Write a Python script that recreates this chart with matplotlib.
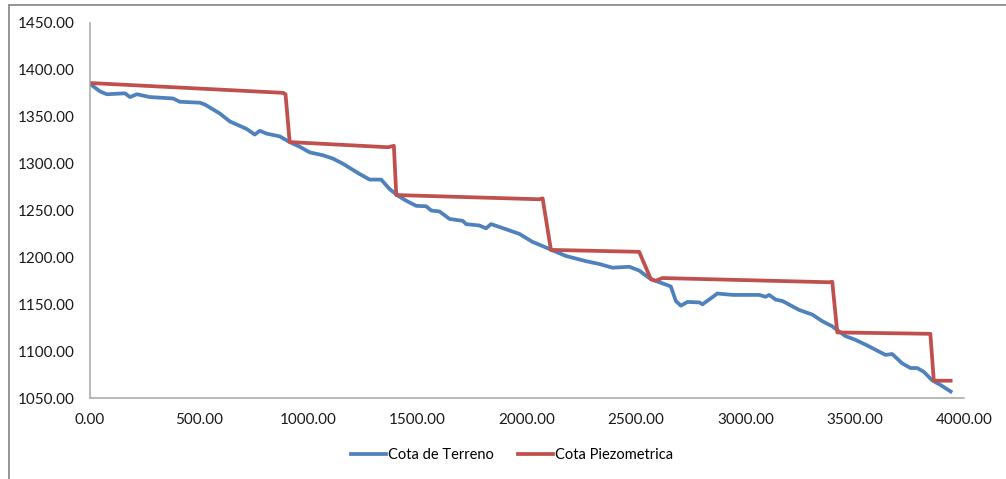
import matplotlib
matplotlib.use("Agg")
import matplotlib.pyplot as plt
from matplotlib.lines import Line2D
from matplotlib.ticker import FormatStrFormatter

# distancia (m) y cotas (m) del perfil
terreno_x = [0, 46, 77, 160, 183, 214, 274, 380, 411, 503, 526, 594, 640, 717, 754, 777, 809, 869,
             914, 960, 1006, 1065, 1111, 1157, 1234, 1280, 1333, 1371, 1408, 1447, 1493, 1539, 1562,
             1600, 1646, 1706, 1722, 1783, 1813, 1836, 1905, 1966, 2026, 2088, 2117, 2179, 2270,
             2331, 2392, 2469, 2514, 2560, 2583, 2636, 2659, 2682, 2705, 2735, 2789, 2804, 2834,
             2872, 2941, 3063, 3093, 3109, 3139, 3170, 3246, 3307, 3352, 3398, 3429, 3459, 3505,
             3550, 3596, 3642, 3672, 3718, 3756, 3787, 3817, 3855, 3893, 3940]
terreno_y = [1385, 1377, 1374, 1375, 1371, 1374, 1371, 1369.5, 1366, 1365, 1363, 1353.5, 1345, 1337,
             1331, 1335, 1332, 1329, 1323, 1318, 1312, 1309, 1305.5, 1300, 1289, 1283, 1283, 1273,
             1266, 1260.5, 1255, 1254.5, 1250, 1249, 1241, 1239, 1235.5, 1234, 1231, 1235.5, 1230,
             1225, 1216.5, 1210.5, 1207.5, 1201.5, 1196, 1193, 1189, 1190, 1186, 1178, 1175.5, 1171,
             1169, 1153.5, 1148.5, 1152.5, 1152, 1150, 1155, 1161.5, 1160, 1160, 1158, 1160, 1155,
             1153.5, 1144, 1139, 1132, 1126.5, 1121, 1116, 1112, 1107, 1101.5, 1096, 1097, 1087,
             1082, 1082, 1078, 1069, 1064, 1057]

piezo_x = [0, 884, 895, 914, 1364, 1391, 1402, 2057, 2072, 2110, 2507, 2514, 2568, 2590, 2620,
           3383, 3398, 3421, 3847, 3863, 3940]
piezo_y = [1386, 1375.5, 1374, 1323, 1317.5, 1319, 1266.5, 1262, 1263, 1208, 1206, 1206, 1176.5,
           1175, 1178, 1173.5, 1174, 1120, 1118.5, 1068.5, 1068.5]

x_ticks = [0, 500, 1000, 1500, 2000, 2500, 3000, 3500, 4000]
y_ticks = [1050, 1100, 1150, 1200, 1250, 1300, 1350, 1400, 1450]

azul = "#4F81BD"
rojo = "#C0504D"
gris = "#A6A6A6"

plt.rcParams["font.family"] = ["Lato", "DejaVu Sans"]

fig = plt.figure(figsize=(10.06, 4.79), dpi=100)
ax = fig.add_axes([0.0895, 0.169, 0.8685, 0.783])

ax.plot(terreno_x, terreno_y, color=azul, lw=2.7, solid_joinstyle="round", label="Cota de Terreno")
ax.plot(piezo_x, piezo_y, color=rojo, lw=2.7, solid_joinstyle="round", label="Cota Piezometrica")

ax.set_xlim(0, 4000)
ax.set_ylim(1050, 1450)
ax.set_xticks(x_ticks)
ax.set_yticks(y_ticks)
ax.xaxis.set_major_formatter(FormatStrFormatter("%.2f"))
ax.yaxis.set_major_formatter(FormatStrFormatter("%.2f"))
ax.tick_params(length=0, labelsize=11, colors="#1a1a1a")
ax.tick_params(axis="y", pad=11)
ax.tick_params(axis="x", pad=11)

for s in ["top", "right"]:
    ax.spines[s].set_visible(False)
for s in ["left", "bottom"]:
    ax.spines[s].set_color(gris)
    ax.spines[s].set_linewidth(1.1)

fig.legend(loc="center", bbox_to_anchor=(0.509, 0.05), ncol=2, frameon=False, fontsize=10.5,
           handlelength=2.4, handletextpad=0.1, columnspacing=1.7)

# marco del grafico
fig.add_artist(Line2D([0.0089, 1], [0.9896, 0.9896], color="#8c8c8c", lw=1.3))
fig.add_artist(Line2D([0.0089, 0.0089], [0, 0.9896], color="#8c8c8c", lw=1.3))

fig.savefig("out.png", dpi=100)
